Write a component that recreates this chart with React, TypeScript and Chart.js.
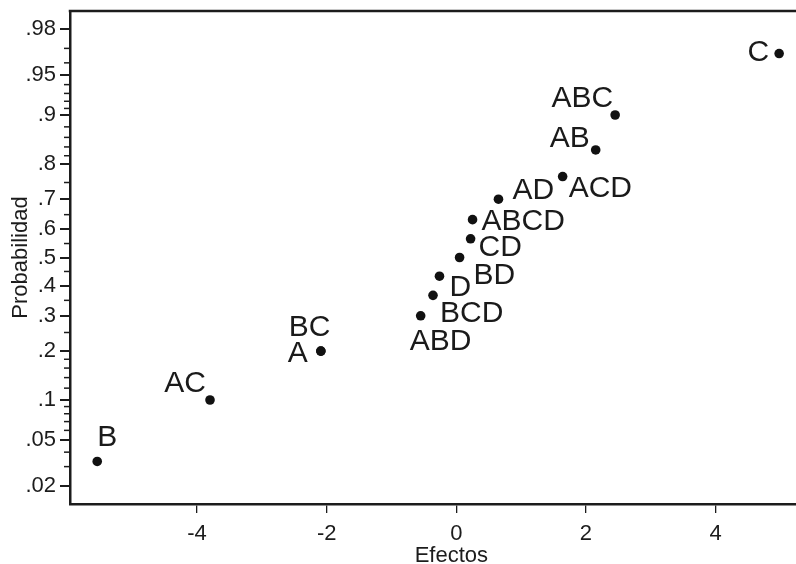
import { useEffect, useRef } from "react";
import { Chart, registerables } from "chart.js";

Chart.register(...registerables);

// ---- data ----
const effectNames = ["B", "AC", "A", "BC", "ABD", "BCD", "D", "BD", "CD", "ABCD", "AD", "ACD", "AB", "ABC", "C"];
const effectValues = [-5.54, -3.8, -2.09, -2.09, -0.55, -0.36, -0.26, 0.05, 0.22, 0.25, 0.65, 1.64, 2.15, 2.45, 4.98];
const effectProbabilities = [0.0333, 0.1, 0.2, 0.2, 0.3, 0.3667, 0.4333, 0.5, 0.5667, 0.6333, 0.7, 0.7667, 0.8333, 0.9, 0.9667];

const xTickValues = [-4, -2, 0, 2, 4];
const yMajorProbs = [0.02, 0.05, 0.1, 0.2, 0.3, 0.4, 0.5, 0.6, 0.7, 0.8, 0.9, 0.95, 0.98];
const yMajorLabels = [".02", ".05", ".1", ".2", ".3", ".4", ".5", ".6", ".7", ".8", ".9", ".95", ".98"];
const yMinorProbs = [0.03, 0.04, 0.06, 0.07, 0.08, 0.09, 0.12, 0.14, 0.16, 0.18, 0.25, 0.35, 0.45, 0.55, 0.65, 0.75, 0.82, 0.84, 0.86, 0.88, 0.91, 0.92, 0.93, 0.94, 0.96, 0.97];
const xTitle = "Efectos";
const yTitle = "Probabilidad";

// label placement (style): alignment, x offset, baseline offset in px
const labelPlacement: { align: CanvasTextAlign; dx: number; dy: number }[] = [
  { align: "left", dx: 0, dy: -15 },   // B
  { align: "right", dx: -4, dy: -8 },  // AC
  { align: "right", dx: -13, dy: 11 }, // A
  { align: "left", dx: -32, dy: -15 }, // BC
  { align: "left", dx: -11, dy: 34 },  // ABD
  { align: "left", dx: 7, dy: 27 },    // BCD
  { align: "left", dx: 10, dy: 20 },   // D
  { align: "left", dx: 14, dy: 26 },   // BD
  { align: "left", dx: 8, dy: 17 },    // CD
  { align: "left", dx: 9, dy: 10 },    // ABCD
  { align: "left", dx: 14, dy: 0 },    // AD
  { align: "left", dx: 6, dy: 20 },    // ACD
  { align: "right", dx: -6, dy: -3 },  // AB
  { align: "right", dx: -2, dy: -8 },  // ABC
  { align: "right", dx: -10, dy: 7 },  // C
];

// inverse standard normal CDF (Acklam)
function normInv(p: number): number {
  const a = [-39.69683028665376, 220.9460984245205, -275.9285104469687, 138.357751867269, -30.66479806614716, 2.506628277459239];
  const b = [-54.47609879822406, 161.5858368580409, -155.6989798598866, 66.80131188771972, -13.28068155288572];
  const c = [-0.007784894002430293, -0.3223964580411365, -2.400758277161838, -2.549732539343734, 4.374664141464968, 2.938163982698783];
  const d = [0.007784695709041462, 0.3224671290700398, 2.445134137142996, 3.754408661907416];
  const pl = 0.02425;
  if (p < pl) {
    const q = Math.sqrt(-2 * Math.log(p));
    return (((((c[0] * q + c[1]) * q + c[2]) * q + c[3]) * q + c[4]) * q + c[5]) / ((((d[0] * q + d[1]) * q + d[2]) * q + d[3]) * q + 1);
  }
  if (p > 1 - pl) {
    const q = Math.sqrt(-2 * Math.log(1 - p));
    return -(((((c[0] * q + c[1]) * q + c[2]) * q + c[3]) * q + c[4]) * q + c[5]) / ((((d[0] * q + d[1]) * q + d[2]) * q + d[3]) * q + 1);
  }
  const q = p - 0.5;
  const r = q * q;
  return (((((a[0] * r + a[1]) * r + a[2]) * r + a[3]) * r + a[4]) * r + a[5]) * q / (((((b[0] * r + b[1]) * r + b[2]) * r + b[3]) * r + b[4]) * r + 1);
}

const INK = "#1c1c1c";
const AXIS_FONT = "'Liberation Sans Narrow', 'Liberation Sans', Arial, sans-serif";
const LABEL_FONT = "'Liberation Sans', Arial, sans-serif";

const decorPlugin = {
  id: "decor",
  afterDraw(chart: any) {
    const { ctx, chartArea, scales } = chart;
    const ys = scales.y;
    const xs = scales.x;
    ctx.save();
    // top frame line
    ctx.strokeStyle = INK;
    ctx.lineWidth = 2.5;
    ctx.beginPath();
    ctx.moveTo(chartArea.left - 1.25, chartArea.top);
    ctx.lineTo(chart.width + 2, chartArea.top);
    ctx.stroke();
    // minor y ticks
    ctx.lineWidth = 1.5;
    yMinorProbs.forEach((p) => {
      const y = ys.getPixelForValue(normInv(p));
      ctx.beginPath();
      ctx.moveTo(chartArea.left - 6, y);
      ctx.lineTo(chartArea.left, y);
      ctx.stroke();
    });
    // x axis title (centred under the reference's frame centre, slightly right of chart-area centre)
    ctx.fillStyle = INK;
    ctx.font = "22px " + AXIS_FONT;
    ctx.textAlign = "center";
    ctx.textBaseline = "alphabetic";
    ctx.fillText(xTitle, xs.getPixelForValue(0) - 5, chart.height - 2);
    // point labels
    ctx.fillStyle = "#1a1a1a";
    ctx.font = "30px " + LABEL_FONT;
    effectNames.forEach((name, i) => {
      const px = xs.getPixelForValue(effectValues[i]);
      const py = ys.getPixelForValue(normInv(effectProbabilities[i]));
      const pl = labelPlacement[i];
      ctx.textAlign = pl.align;
      ctx.fillText(name, px + pl.dx, py + pl.dy);
    });
    ctx.restore();
  },
};

export default function App() {
  const ref = useRef<HTMLCanvasElement | null>(null);
  useEffect(() => {
    document.body.style.margin = "0";
    const canvas = ref.current;
    if (!canvas) return;
    const points = effectValues.map((x, i) => ({ x, y: normInv(effectProbabilities[i]) }));
    const chart = new Chart(canvas, {
      type: "scatter",
      data: {
        datasets: [
          {
            data: points,
            pointRadius: 4.8,
            pointHoverRadius: 4.8,
            backgroundColor: "#111",
            borderWidth: 0,
            clip: false,
          },
        ],
      },
      options: {
        animation: false,
        responsive: false,
        devicePixelRatio: 1,
        layout: { autoPadding: false, padding: { top: 11, right: 0, left: 0, bottom: 0 } },
        plugins: { legend: { display: false }, tooltip: { enabled: false } },
        scales: {
          x: {
            type: "linear",
            min: -5.96,
            max: 5.24,
            afterBuildTicks: (scale: any) => {
              scale.ticks = xTickValues.map((v) => ({ value: v }));
            },
            afterFit: (scale: any) => {
              scale.height = 60;
              scale.paddingLeft = 0;
              scale.paddingRight = 0;
            },
            ticks: {
              color: INK,
              font: { family: AXIS_FONT, size: 22 },
              padding: 8,
              callback: (v: any) => String(v),
            },
            grid: { drawOnChartArea: false, drawTicks: true, tickLength: 9, color: INK, lineWidth: 1.3 },
            border: { display: true, color: INK, width: 2.5 },
            title: { display: false, text: xTitle },
          },
          y: {
            type: "linear",
            min: -2.217,
            max: 2.217,
            afterBuildTicks: (scale: any) => {
              scale.ticks = yMajorProbs.map((p) => ({ value: normInv(p) }));
            },
            afterFit: (scale: any) => {
              scale.width = 70;
              scale.paddingTop = 0;
              scale.paddingBottom = 0;
            },
            ticks: {
              color: INK,
              font: { family: AXIS_FONT, size: 22 },
              padding: 4,
              callback: (_v: any, i: number) => yMajorLabels[i],
            },
            grid: { drawOnChartArea: false, drawTicks: true, tickLength: 10, color: INK, lineWidth: 2 },
            border: { display: true, color: INK, width: 2.5 },
            title: {
              display: true,
              text: yTitle,
              color: INK,
              font: { family: AXIS_FONT, size: 22 },
              padding: { top: 8, bottom: 0 },
            },
          },
        },
      },
      plugins: [decorPlugin],
    });
    return () => chart.destroy();
  }, []);
  return <canvas ref={ref} width={796} height={564} style={{ display: "block" }} />;
}
